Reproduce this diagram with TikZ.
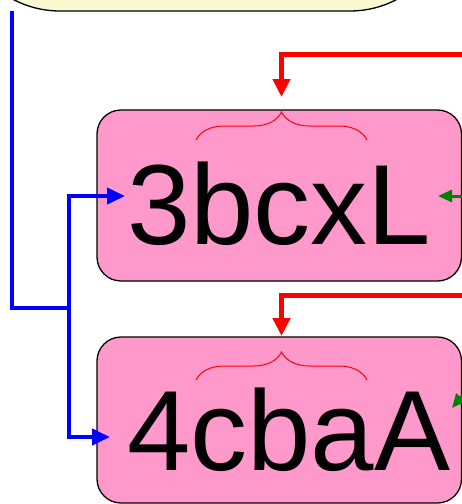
\documentclass[tikz,border=0pt]{standalone}
\usepackage{fontspec}
\setmainfont{Liberation Sans}
\usetikzlibrary{shapes,arrows.meta,positioning,decorations.pathreplacing}
\definecolor{keypink}{RGB}{255,153,204}
\definecolor{noteyellow}{RGB}{250,250,210}
\definecolor{linkgreen}{RGB}{0,128,0}

\begin{document}
\begin{tikzpicture}[x=1pt, y=-1pt]
        \tikzstyle{block} = [rectangle, draw, line width=1.3pt, fill=keypink, rounded corners=24pt, minimum width=364.5pt, inner sep=0pt, outer sep=0pt]
        \tikzstyle{note} = [rectangle, draw, line width=1.3pt, fill=noteyellow, rounded corners=100pt, inner sep=0pt, outer sep=0pt]
        \tikzstyle{key} = [inner sep=0pt, outer sep=0pt, anchor=base west, font=\fontsize{114}{120}\selectfont]
        \tikzstyle{curly} = [draw, red, line width=1pt, decorate, decoration={brace, amplitude=28pt}]
        \tikzstyle{bus} = [draw, blue, line width=4pt]
        \tikzstyle{line} = [draw, blue, line width=4pt, -{Triangle[length=18pt, width=16pt]}]
        \tikzstyle{feed} = [draw, red, line width=5pt, -{Triangle[length=18pt, width=17pt]}]
        \tikzstyle{link} = [draw, linkgreen, line width=3pt, -{Triangle[length=14pt, width=12pt]}]

        \useasboundingbox (0,0) rectangle (462,504);
        \clip (0,0) rectangle (462,504);

        \node [note, minimum width=490pt, minimum height=260pt] (memo) at (205,-119) {};
        \node [block, minimum height=171pt] (upper) at (279.25,195.5) {};
        \node [block, minimum height=166pt] (lower) at (279.25,420) {};

        \node [key] (upperkey) at (127,244) {3bcxL};
        \node [key] (lowerkey) at (127,470) {4cbaA};

        \path [curly] (196,140) -- (367,140);
        \path [curly] (196,380) -- (367,380);

        % incoming red feeds
        \coordinate (upperfeed) at (470,54);
        \coordinate (uppertop) at (281.5,97);
        \coordinate (lowerfeed) at (470,295);
        \coordinate (lowertop) at (281.5,336);
        \path [feed] (upperfeed) -| (uppertop);
        \path [feed] (lowerfeed) -| (lowertop);

        % blue bus from the note
        \coordinate (busx) at (12,0);
        \coordinate (fork) at (69,308);
        \coordinate (upperleft) at (125,196);
        \coordinate (lowerleft) at (110,437);
        \path [bus] (memo.south -| busx) |- (fork);
        \path [line] (fork) |- (upperleft);
        \path [line] (fork) |- (lowerleft);

        % green links
        \coordinate (uppergreen) at (470,196);
        \coordinate (upperright) at (438,196);
        \coordinate (lowergreen) at (474,382);
        \coordinate (lowerright) at (452,408);
        \path [link] (uppergreen) -- (upperright);
        \path [link] (lowergreen) -- (lowerright);
    \end{tikzpicture}
\end{document}
